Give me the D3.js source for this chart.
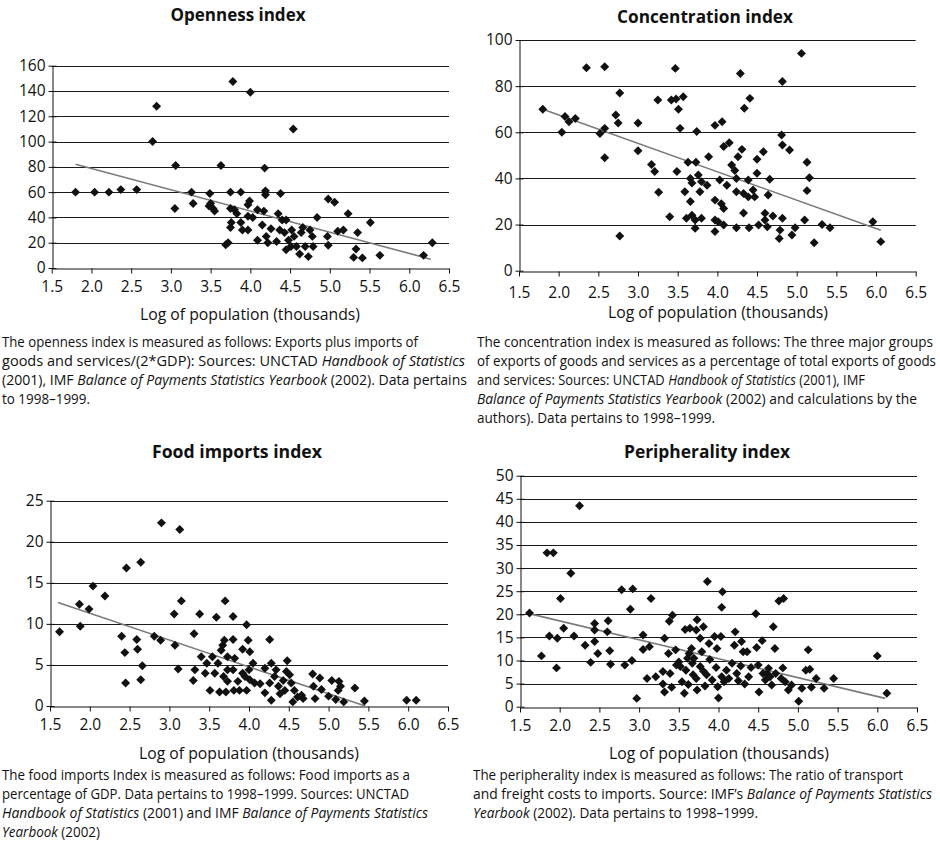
<!DOCTYPE html>
<html>
<head>
<meta charset="utf-8">
<script src="https://cdn.jsdelivr.net/npm/d3@7"></script>
<style>
  body { margin: 0; background: #fff; }
  svg text { font-family: "Open Sans", sans-serif; fill: #111; }
</style>
</head>
<body>
<div id="container"></div>
<script>
'use strict';
(function() {
    // tick values
    var xTicks = [1.5, 2.0, 2.5, 3.0, 3.5, 4.0, 4.5, 5.0, 5.5, 6.0, 6.5];
    var opennessTicks = [0, 20, 40, 60, 80, 100, 120, 140, 160];
    var concentrationTicks = [0, 20, 40, 60, 80, 100];
    var foodTicks = [0, 5, 10, 15, 20, 25];
    var peripheralityTicks = [0, 5, 10, 15, 20, 25, 30, 35, 40, 45, 50];

    // [log population, index value]
    var opennessPoints = [
        [1.80,60],[2.04,60],[2.22,60],[2.37,62],[2.57,62],[2.77,100],[2.82,128],[3.06,81],[3.63,81],[4.18,79],
        [3.26,60],[3.49,59],[3.78,147.5],[4.00,139],[4.54,110],[3.75,60],[3.88,60],[4.19,61],[4.19,58],[4.38,59],
        [3.05,47],[3.28,51],[3.50,51],[3.53,47],[3.55,45],[3.48,49],[3.75,47],[3.80,46],[3.83,43],[3.76,36],
        [3.75,32],[3.88,36],[3.90,30],[3.97,30],[3.69,18.4],[3.72,20],[3.97,50],[3.99,53],[3.97,41],[4.03,40],
        [4.09,46],[4.17,45],[4.15,34],[4.09,22],[4.20,25],[4.22,20],[4.26,31],[4.33,21],[4.35,43],[4.40,38],
        [4.37,30],[4.43,28],[4.45,38],[4.48,22],[4.51,17],[4.45,14.5],[4.52,30],[4.55,25],[4.58,17],[4.62,11],
        [4.64,28],[4.66,32],[4.69,17],[4.73,9],[4.75,30],[4.78,25],[4.79,17],[4.84,40],[4.97,25],[4.98,18],
        [4.98,54.5],[5.06,52],[5.10,29],[5.17,30],[5.23,43],[5.35,28],[5.33,15],[5.30,8.4],[5.41,8],[5.51,36],
        [5.63,10],[6.18,10],[6.29,20]
    ];
    var opennessTrend = [[1.80,82],[6.27,7]];

    var concentrationPoints = [
        [1.80,70],[2.04,60],[2.08,66.8],[2.13,64.6],[2.21,66],[2.35,88],[2.52,59.5],[2.58,61.7],[2.58,88.4],[2.58,49],
        [2.72,67.5],[2.75,64],[2.77,77],[2.77,15],[3.00,64],[3.00,52],[3.17,46],[3.21,43],[3.26,34],[3.25,74],
        [3.40,23.4],[3.42,74],[3.48,74.4],[3.57,75.4],[3.47,87.7],[3.51,70],[3.53,61.7],[3.49,43],[3.59,34.2],[3.63,47],
        [3.73,47],[3.66,40],[3.68,38],[3.66,30],[3.61,22.7],[3.68,24],[3.72,22],[3.72,18.4],[3.74,60.3],[3.76,41.5],
        [3.78,34.2],[3.80,38.6],[3.87,37],[3.80,22.7],[3.89,49.4],[3.97,63],[4.06,64.6],[3.97,30.6],[3.97,22],[3.97,17],
        [4.03,39.3],[4.01,21.2],[4.08,19.8],[4.05,29],[4.08,27],[4.08,53.8],[4.15,55.5],[4.12,37],[4.18,45.8],[4.22,43.4],
        [4.24,40],[4.24,34.2],[4.24,18.6],[4.26,49.4],[4.31,52.6],[4.29,85.5],[4.33,25],[4.34,70.4],[4.33,33.5],[4.39,39.3],
        [4.39,32],[4.41,74.7],[4.40,18.6],[4.45,35],[4.47,32],[4.50,48.3],[4.50,42.2],[4.52,19.8],[4.58,51.6],[4.60,24.9],
        [4.60,22],[4.63,19],[4.64,32.8],[4.66,39.6],[4.70,23.7],[4.79,17.6],[4.78,14],[4.81,58.8],[4.82,54.5],[4.82,82],
        [4.82,22.7],[4.91,52.3],[4.94,15.5],[4.98,18.6],[5.06,94.2],[5.10,22],[5.13,47],[5.13,34.7],[5.16,40.3],[5.22,12.1],
        [5.32,20],[5.42,18.6],[5.96,21.2],[6.06,12.6]
    ];
    var concentrationTrend = [[1.80,70],[6.06,17.5]];

    var foodPoints = [
        [1.62,9.05],[1.87,12.4],[1.88,9.7],[1.99,11.8],[2.04,14.6],[2.19,13.4],[2.40,8.5],[2.44,6.5],[2.45,2.8],[2.46,16.8],
        [2.59,8.1],[2.60,6.9],[2.64,17.5],[2.66,4.9],[2.64,3.2],[2.81,8.5],[2.89,8.0],[2.90,22.3],[3.06,11.2],[3.07,7.4],
        [3.11,4.5],[3.13,21.5],[3.15,12.8],[3.31,8.8],[3.32,4.4],[3.30,3.1],[3.38,11.2],[3.40,6.0],[3.45,4.0],[3.47,5.2],
        [3.51,1.9],[3.54,6.0],[3.57,4.0],[3.59,10.8],[3.61,5.2],[3.63,1.7],[3.65,6.8],[3.67,7.4],[3.69,8.0],[3.68,3.6],
        [3.70,12.8],[3.71,1.7],[3.73,6.0],[3.73,4.4],[3.73,3.0],[3.80,10.9],[3.80,8.1],[3.82,5.8],[3.80,4.4],[3.81,1.9],
        [3.86,3.0],[3.88,1.9],[3.92,6.9],[3.92,4.0],[3.97,9.9],[3.99,8.0],[3.97,1.9],[3.95,3.6],[4.01,6.6],[4.00,4.4],
        [4.05,5.2],[4.01,3.2],[4.07,2.8],[4.14,2.7],[4.20,4.6],[4.20,1.6],[4.26,8.1],[4.28,5.2],[4.26,2.8],[4.28,0.7],
        [4.32,3.6],[4.34,4.4],[4.37,2.4],[4.39,1.5],[4.43,3.1],[4.45,1.9],[4.48,5.5],[4.47,4.2],[4.51,3.8],[4.53,2.8],
        [4.55,0.5],[4.57,1.9],[4.61,1.1],[4.66,1.3],[4.68,0.9],[4.80,3.9],[4.81,2.4],[4.83,0.9],[4.89,3.4],[4.91,2.0],
        [5.00,1.2],[5.04,3.1],[5.09,0.8],[5.13,3.0],[5.15,2.4],[5.12,1.9],[5.19,0.5],[5.33,2.2],[5.45,0.6],[5.98,0.7],
        [6.10,0.7]
    ];
    var foodTrend = [[1.60,12.6],[5.46,0]];

    var peripheralityPoints = [
        [1.62,20.3],[1.77,11.0],[1.84,33.3],[1.92,33.3],[1.87,15.3],[1.97,14.8],[1.96,8.4],[2.01,23.4],[2.05,17.0],[2.14,28.9],
        [2.18,15.3],[2.25,43.5],[2.32,13.3],[2.39,9.6],[2.44,18.0],[2.44,16.6],[2.44,14.1],[2.48,11.5],[2.61,18.6],[2.60,16.2],
        [2.63,12.1],[2.64,9.2],[2.78,25.3],[2.82,9.0],[2.89,21.1],[2.92,25.5],[2.91,10.0],[2.97,1.8],[3.05,15.5],[3.05,12.4],
        [3.13,13.0],[3.10,6.1],[3.15,23.4],[3.21,6.5],[3.30,7.6],[3.32,14.8],[3.30,4.9],[3.32,3.2],[3.37,11.5],[3.38,18.5],
        [3.42,19.8],[3.39,7.2],[3.41,4.2],[3.46,12.3],[3.47,9.0],[3.50,9.7],[3.52,8.7],[3.54,5.4],[3.57,2.9],[3.58,16.7],
        [3.64,17.0],[3.59,7.9],[3.61,10.5],[3.63,11.5],[3.62,4.8],[3.66,12.6],[3.67,9.4],[3.69,10.5],[3.68,6.9],[3.72,6.1],
        [3.73,3.6],[3.73,18.8],[3.72,16.6],[3.77,14.8],[3.77,8.7],[3.79,11.9],[3.81,17.3],[3.81,7.7],[3.83,4.5],[3.86,27.1],
        [3.85,6.9],[3.88,13.7],[3.89,10.2],[3.92,5.8],[3.95,15.2],[3.98,12.6],[3.97,8.5],[3.99,4.3],[4.00,1.9],[4.03,15.2],
        [4.04,21.5],[4.05,24.9],[4.04,6.5],[4.07,5.4],[4.10,7.9],[4.13,6.1],[4.17,9.4],[4.21,16.2],[4.20,13.3],[4.23,7.2],
        [4.25,5.6],[4.28,8.8],[4.29,14.1],[4.31,11.9],[4.36,11.9],[4.33,4.9],[4.38,6.5],[4.41,8.5],[4.47,20.1],[4.48,12.8],
        [4.50,9.0],[4.51,3.2],[4.55,14.3],[4.56,7.2],[4.59,5.8],[4.61,7.2],[4.63,8.3],[4.65,6.5],[4.69,17.3],[4.67,4.7],
        [4.71,12.6],[4.72,7.2],[4.76,22.9],[4.82,23.4],[4.79,6.1],[4.81,8.4],[4.84,5.4],[4.88,3.6],[4.92,4.7],[5.01,1.2],
        [5.05,4.0],[5.10,7.9],[5.15,8.1],[5.13,12.3],[5.17,4.2],[5.23,6.1],[5.33,4.0],[5.45,6.1],[6.00,11.0],[6.12,2.9]
    ];
    var peripheralityTrend = [[1.60,20.2],[6.10,1.8]];

    // notes, _text_ is italic
    var opennessNote = [
        'The openness index is measured as follows: Exports plus imports of',
        'goods and services/(2*GDP): Sources: UNCTAD _Handbook of Statistics_',
        '(2001), IMF _Balance of Payments Statistics Yearbook_ (2002). Data pertains',
        'to 1998\u20131999.'
    ];
    var concentrationNote = [
        'The concentration index is measured as follows: The three major groups',
        'of exports of goods and services as a percentage of total exports of goods',
        'and services: Sources: UNCTAD _Handbook of Statistics_ (2001), IMF',
        '_Balance of Payments Statistics Yearbook_ (2002) and calculations by the',
        'authors). Data pertains to 1998\u20131999.'
    ];
    var foodNote = [
        'The food imports Index is measured as follows: Food imports as a',
        'percentage of GDP. Data pertains to 1998\u20131999. Sources: UNCTAD',
        '_Handbook of Statistics_ (2001) and IMF _Balance of Payments Statistics_',
        '_Yearbook_ (2002)'
    ];
    var peripheralityNote = [
        'The peripherality index is measured as follows: The ratio of transport',
        'and freight costs to imports. Source: IMF\u2019s _Balance of Payments Statistics_',
        '_Yearbook_ (2002). Data pertains to 1998\u20131999.'
    ];

    var xLabel = 'Log of population (thousands)';

    // layout of the four panels
    var panels = [
        { title: 'Openness index', points: opennessPoints, trend: opennessTrend, ticks: opennessTicks, note: opennessNote,
          left: 51.7, right: 449, bottom: 268, top: 65.7, titleX: 238, titleY: 21, titleW: 135,
          labelX: 250, labelY: 320, tickPad: 7, noteX: 2, noteY: 347, noteW: [416, 463, 465, 88] },
        { title: 'Concentration index', points: concentrationPoints, trend: concentrationTrend, ticks: concentrationTicks, note: concentrationNote,
          left: 519, right: 915.7, bottom: 270.7, top: 40, titleX: 705, titleY: 23, titleW: 176,
          labelX: 718, labelY: 318, tickPad: 10, noteX: 477, noteY: 347, noteW: [456, 459, 388, 440, 238] },
        { title: 'Food imports index', points: foodPoints, trend: foodTrend, ticks: foodTicks, note: foodNote,
          left: 50, right: 448, bottom: 706, top: 500.7, titleX: 237, titleY: 458, titleW: 170,
          labelX: 249, labelY: 759, tickPad: 7, noteX: 2, noteY: 780, noteW: [408, 407, 426, 98] },
        { title: 'Peripherality index', points: peripheralityPoints, trend: peripheralityTrend, ticks: peripheralityTicks, note: peripheralityNote,
          left: 520, right: 917, bottom: 706.7, top: 475.7, titleX: 707, titleY: 458, titleW: 166,
          labelX: 719, labelY: 759, tickPad: 7, noteX: 473, noteY: 780, noteW: [430, 459, 285] }
    ];

    var svg = d3.select('#container').append('svg')
        .attr('width', 940)
        .attr('height', 844);

    var diamond = d3.symbol().type(d3.symbolSquare).size(40);

    panels.forEach(drawPanel);

    function drawPanel(p) {
        var g = svg.append('g');
        var x = d3.scaleLinear().domain([1.5, 6.5]).range([p.left, p.right]);
        var y = d3.scaleLinear().domain([0, p.ticks[p.ticks.length - 1]]).range([p.bottom, p.top]);

        // gridlines
        g.append('g').selectAll('line')
            .data(p.ticks.slice(1))
            .enter().append('line')
            .attr('x1', p.left).attr('x2', p.right)
            .attr('y1', function(d) { return Math.round(y(d)) + 0.5; })
            .attr('y2', function(d) { return Math.round(y(d)) + 0.5; })
            .attr('stroke', '#1a1a1a')
            .attr('stroke-width', 1);

        var xAxis = g.append('g')
            .attr('transform', 'translate(0,' + (Math.round(p.bottom) + 0.5) + ')')
            .call(d3.axisBottom(x).tickValues(xTicks).tickFormat(d3.format('.1f'))
                .tickSize(5).tickSizeOuter(0).tickPadding(p.tickPad));
        styleAxis(xAxis);

        var yAxis = g.append('g')
            .attr('transform', 'translate(' + (Math.round(p.left) + 0.5) + ',0)')
            .call(d3.axisLeft(y).tickValues(p.ticks).tickSize(4).tickSizeOuter(0).tickPadding(3));
        yAxis.selectAll('.tick line').attr('x1', 4);
        styleAxis(yAxis);

        // trend line
        g.append('path')
            .datum(p.trend)
            .attr('fill', 'none')
            .attr('stroke', '#7a7a7a')
            .attr('stroke-width', 1.6)
            .attr('d', d3.line()
                .x(function(d) { return x(d[0]); })
                .y(function(d) { return y(d[1]); }));

        g.append('g').selectAll('path')
            .data(p.points)
            .enter().append('path')
            .attr('d', diamond)
            .attr('transform', function(d) {
                return 'translate(' + x(d[0]) + ',' + y(d[1]) + ') rotate(45)';
            })
            .attr('fill', '#111');

        g.append('text')
            .attr('x', p.titleX).attr('y', p.titleY)
            .attr('text-anchor', 'middle')
            .attr('font-size', 17).attr('font-weight', 'bold')
            .attr('textLength', p.titleW).attr('lengthAdjust', 'spacingAndGlyphs')
            .text(p.title);

        g.append('text')
            .attr('x', p.labelX).attr('y', p.labelY)
            .attr('text-anchor', 'middle')
            .attr('font-size', 16)
            .attr('textLength', 220).attr('lengthAdjust', 'spacingAndGlyphs')
            .text(xLabel);

        p.note.forEach(function(line, i) {
            var t = g.append('text')
                .attr('x', p.noteX).attr('y', p.noteY + i * 18.9)
                .attr('font-size', 14)
                .attr('textLength', p.noteW[i]).attr('lengthAdjust', 'spacingAndGlyphs');
            line.split('_').forEach(function(part, j) {
                if (!part) return;
                t.append('tspan')
                    .attr('font-style', j % 2 ? 'italic' : 'normal')
                    .text(part);
            });
        });
    }

    function styleAxis(a) {
        a.select('.domain').attr('stroke', '#111');
        a.selectAll('.tick line').attr('stroke', '#111');
        a.selectAll('.tick text')
            .attr('font-family', '"Open Sans", sans-serif')
            .attr('font-size', 15.5)
            .attr('fill', '#111');
    }
})();
</script>
</body>
</html>
